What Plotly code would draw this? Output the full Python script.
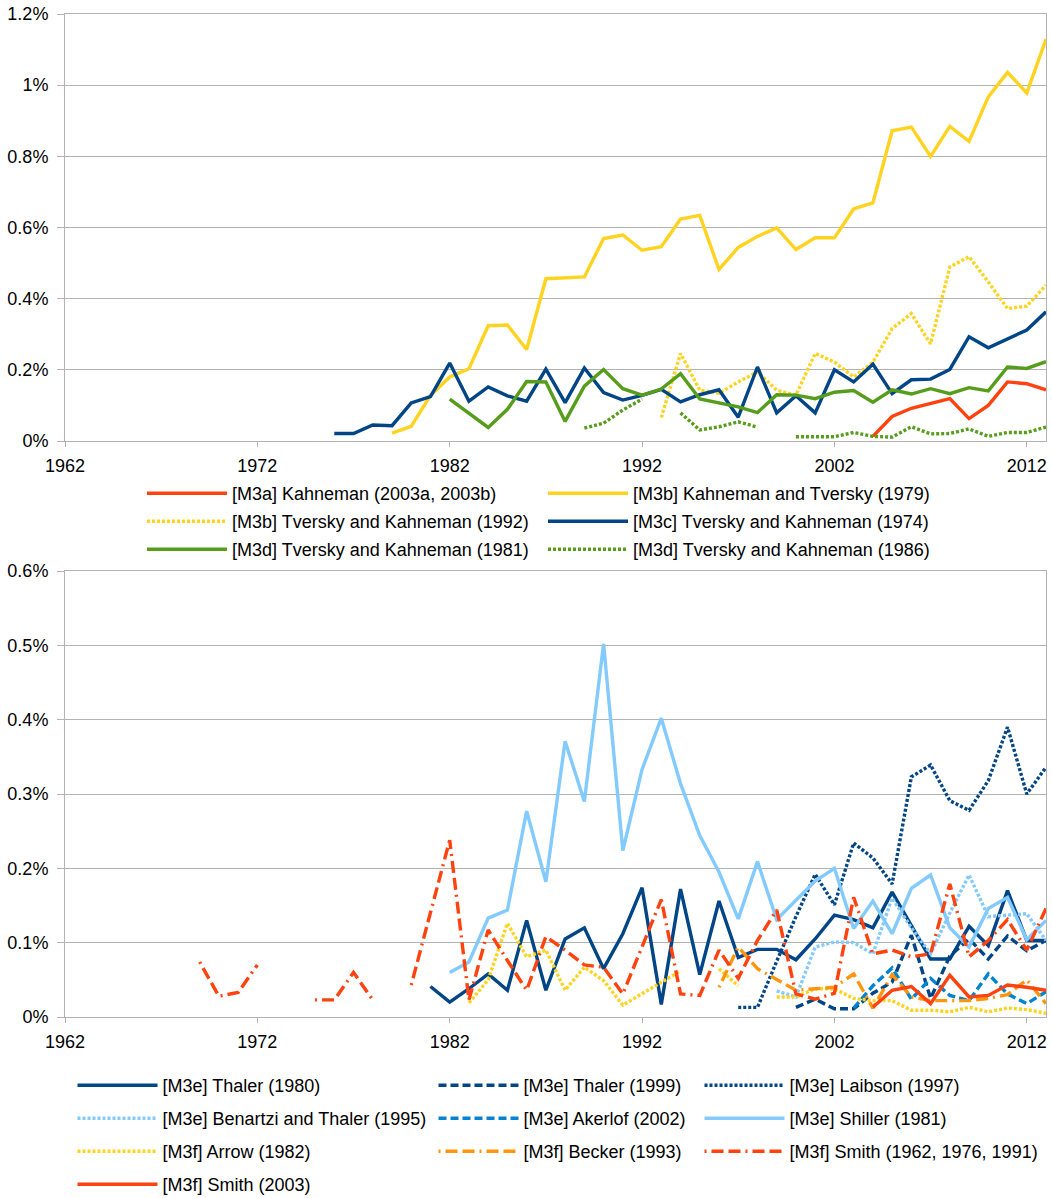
import plotly.graph_objects as go

# ---------------- data (values in percent) ----------------
YEARS = list(range(1962, 2014))
X_TICKS = [1962, 1972, 1982, 1992, 2002, 2012]
TOP_Y_TICKS = [0, 0.2, 0.4, 0.6, 0.8, 1.0, 1.2]
BOTTOM_Y_TICKS = [0, 0.1, 0.2, 0.3, 0.4, 0.5, 0.6]

# top chart
K2003_START = 2004
K2003 = [0.013, 0.069, 0.092, 0.106, 0.119, 0.063, 0.100, 0.166, 0.161, 0.144]

KT1979_START = 1979
KT1979 = [0.022, 0.041, 0.128, 0.180, 0.203, 0.324, 0.326, 0.257, 0.456, 0.459,
          0.461, 0.569, 0.579, 0.536, 0.546, 0.624, 0.634, 0.482, 0.544, 0.575,
          0.599, 0.538, 0.571, 0.571, 0.652, 0.669, 0.872, 0.882, 0.800, 0.884,
          0.842, 0.967, 1.036, 0.978, 1.129]

TK1992_START = 1993
TK1992 = [0.066, 0.246, 0.143, 0.134, 0.166, 0.194, 0.143, 0.129, 0.246, 0.222,
          0.180, 0.221, 0.316, 0.358, 0.273, 0.489, 0.518, 0.447, 0.372, 0.379,
          0.438]

TK1974_START = 1976
TK1974 = [0.021, 0.021, 0.045, 0.043, 0.107, 0.125, 0.219, 0.112, 0.152, 0.127,
          0.112, 0.202, 0.108, 0.205, 0.136, 0.115, 0.128, 0.145, 0.110, 0.130,
          0.144, 0.067, 0.208, 0.079, 0.127, 0.079, 0.200, 0.166, 0.216, 0.133,
          0.172, 0.174, 0.201, 0.293, 0.262, 0.288, 0.312, 0.363]

TK1981_START = 1982
TK1981 = [0.118, 0.077, 0.038, 0.089, 0.167, 0.166, 0.055, 0.154, 0.201, 0.147,
          0.129, 0.146, 0.189, 0.118, 0.107, 0.096, 0.080, 0.130, 0.129, 0.119,
          0.137, 0.142, 0.109, 0.144, 0.132, 0.147, 0.133, 0.150, 0.141, 0.208,
          0.204, 0.223]

TK1986_START = 1989
TK1986 = [0.036, 0.050, 0.087, 0.118, None, 0.079, 0.031, 0.040, 0.054, 0.039,
          None, 0.012, 0.012, 0.012, 0.024, 0.013, 0.011, 0.040, 0.020, 0.021,
          0.034, 0.013, 0.024, 0.024, 0.039]

# bottom chart
THALER1980_START = 1981
THALER1980 = [0.041, 0.020, 0.038, 0.058, 0.036, 0.130, 0.036, 0.105, 0.120, 0.065,
              0.112, 0.174, 0.017, 0.172, 0.057, 0.156, 0.080, 0.091, 0.091, 0.077,
              0.105, 0.137, 0.131, 0.120, 0.168, 0.122, 0.078, 0.078, 0.122, 0.096,
              0.170, 0.103, 0.103]

THALER1999_START = 2000
THALER1999 = [0.013, 0.024, 0.011, 0.011, 0.032, 0.047, 0.110, 0.025, 0.082, 0.105,
              0.078, 0.109, 0.089, 0.103]

LAIBSON1997_START = 1997
LAIBSON1997 = [0.013, 0.013, 0.075, 0.135, 0.192, 0.151, 0.234, 0.214, 0.179, 0.323,
               0.339, 0.291, 0.278, 0.318, 0.390, 0.300, 0.336]

BENARTZI1995_START = 1999
BENARTZI1995 = [0.035, 0.027, 0.094, 0.101, 0.100, 0.085, 0.160, 0.120, 0.085, 0.140,
                0.191, 0.135, 0.137, 0.139, 0.103]

AKERLOF2002_START = 2003
AKERLOF2002 = [0.012, 0.042, 0.066, 0.024, 0.052, 0.029, 0.022, 0.058, 0.031, 0.018,
               0.034]

SHILLER1981_START = 1982
SHILLER1981 = [0.060, 0.074, 0.133, 0.144, 0.277, 0.182, 0.371, 0.290, 0.502, 0.224,
               0.333, 0.402, 0.314, 0.244, 0.195, 0.132, 0.209, 0.131, 0.157, 0.183,
               0.200, 0.119, 0.156, 0.112, 0.173, 0.191, 0.120, 0.094, 0.146, 0.161,
               0.104, 0.130]

ARROW1982_START = 1983
ARROW1982 = [0.019, 0.050, 0.126, 0.081, 0.090, 0.036, 0.067, 0.049, 0.016, 0.031,
             0.046, 0.062, None, 0.065, 0.042, None, 0.027, 0.027, 0.038, 0.038,
             0.025, 0.022, 0.022, 0.009, 0.009, 0.007, 0.013, 0.007, 0.012, 0.010,
             0.005]

BECKER1993_START = 1996
BECKER1993 = [0.040, 0.094, 0.065, 0.051, 0.036, 0.038, 0.040, 0.058, 0.012, 0.057,
              0.027, 0.022, 0.022, 0.022, 0.025, 0.030, 0.050, 0.018]

SMITH1962_START = 1969
SMITH1962 = [0.074, 0.028, 0.033, 0.070, None, None, 0.023, 0.023, 0.060, 0.023,
             None, 0.043, 0.141, 0.238, 0.023, 0.117, 0.076, 0.036, 0.108, 0.090,
             0.070, 0.067, 0.031, 0.096, 0.158, 0.031, 0.029, 0.090, 0.052, 0.103,
             0.144, 0.031, 0.024, 0.032, 0.161, 0.085, 0.090, 0.081, 0.085, 0.179,
             0.081, 0.103, 0.131, 0.090, 0.146]

SMITH2003_START = 2004
SMITH2003 = [0.013, 0.036, 0.041, 0.018, 0.056, 0.027, 0.029, 0.043, 0.040, 0.036]

# ---------------- styling ----------------
RED = "#ff420e"
YELLOW = "#ffd320"
DARK = "#004586"
GREEN = "#579d1c"
LIGHT = "#83caff"
MID = "#0084d1"
ORANGE = "#ff950e"
GRID = "#b3b3b3"
FONT = "Liberation Sans, Arial, sans-serif"
LW = 3.4

DOT = "3px,2px"
DASH = "8px,4px"
DASHDOT = "2px,5px,12px,5px,12px,5px"


def years_for(start, vals):
    i = start - YEARS[0]
    return YEARS[i:i + len(vals)]


fig = go.Figure()


def add(name, start, vals, color, dash, legend, axis):
    fig.add_trace(go.Scatter(
        x=years_for(start, vals), y=vals, mode="lines", name=name,
        line=dict(color=color, width=LW, dash=dash),
        connectgaps=False, legend=legend, legendgroup=name,
        xaxis="x" if axis == 1 else "x2", yaxis="y" if axis == 1 else "y2",
    ))


# top chart
add("[M3a] Kahneman (2003a, 2003b)", K2003_START, K2003, RED, "solid", "legend", 1)
add("[M3b] Kahneman and Tversky (1979)", KT1979_START, KT1979, YELLOW, "solid", "legend2", 1)
add("[M3b] Tversky and Kahneman (1992)", TK1992_START, TK1992, YELLOW, DOT, "legend", 1)
add("[M3c] Tversky and Kahneman (1974)", TK1974_START, TK1974, DARK, "solid", "legend2", 1)
add("[M3d] Tversky and Kahneman (1981)", TK1981_START, TK1981, GREEN, "solid", "legend", 1)
add("[M3d] Tversky and Kahneman (1986)", TK1986_START, TK1986, GREEN, DOT, "legend2", 1)

# bottom chart
add("[M3e] Thaler (1980)", THALER1980_START, THALER1980, DARK, "solid", "legend3", 2)
add("[M3e] Thaler (1999)", THALER1999_START, THALER1999, DARK, DASH, "legend4", 2)
add("[M3e] Laibson (1997)", LAIBSON1997_START, LAIBSON1997, DARK, DOT, "legend5", 2)
add("[M3e] Benartzi and Thaler (1995)", BENARTZI1995_START, BENARTZI1995, LIGHT, DOT, "legend3", 2)
add("[M3e] Akerlof (2002)", AKERLOF2002_START, AKERLOF2002, MID, DASH, "legend4", 2)
add("[M3e] Shiller (1981)", SHILLER1981_START, SHILLER1981, LIGHT, "solid", "legend5", 2)
add("[M3f] Arrow (1982)", ARROW1982_START, ARROW1982, YELLOW, DOT, "legend3", 2)
add("[M3f] Becker (1993)", BECKER1993_START, BECKER1993, ORANGE, DASHDOT, "legend4", 2)
add("[M3f] Smith (1962, 1976, 1991)", SMITH1962_START, SMITH1962, RED, DASHDOT, "legend5", 2)
add("[M3f] Smith (2003)", SMITH2003_START, SMITH2003, RED, "solid", "legend3", 2)

W, H = 1052, 1198
XDOM = [65 / W, 1046 / W]


def pct(v):
    return f"{v:g}%"


def xaxis_style(anchor, standoff):
    return dict(domain=XDOM, range=[1962, 2013], tickmode="array", tickvals=X_TICKS,
                ticks="outside", ticklen=5, tickcolor=GRID, showline=True,
                linecolor=GRID, linewidth=1, mirror=True, showgrid=False,
                zeroline=False, anchor=anchor, ticklabelstandoff=standoff,
                automargin=False, ticklabeloverflow="allow",
                tickfont=dict(family=FONT, size=18, color="#000"))


def yaxis_style(dom, rng, ticks, anchor):
    return dict(domain=dom, range=rng, tickmode="array", tickvals=ticks,
                ticktext=[pct(v) for v in ticks], ticks="outside", ticklen=7,
                tickcolor=GRID, showline=True, linecolor=GRID, linewidth=1,
                mirror=True, showgrid=True, gridcolor=GRID, gridwidth=1,
                zeroline=False, anchor=anchor, ticklabelstandoff=5,
                automargin=False, ticklabeloverflow="allow",
                tickfont=dict(family=FONT, size=18, color="#000"))


def legend_style(x, ytop, gap):
    return dict(x=x / W, y=1 - ytop / H, xanchor="left", yanchor="top",
                orientation="v", itemwidth=80, tracegroupgap=gap,
                bgcolor="rgba(0,0,0,0)", borderwidth=0,
                font=dict(family=FONT, size=18, color="#000"))


fig.update_layout(
    width=W, height=H, margin=dict(l=0, r=0, t=0, b=0, autoexpand=False),
    paper_bgcolor="white", plot_bgcolor="white", showlegend=True,
    font=dict(family=FONT, size=18, color="#000"),
    xaxis=xaxis_style("y", 3),
    yaxis=yaxis_style([1 - 441 / H, 1 - 14 / H], [0, 1.2], TOP_Y_TICKS, "x"),
    xaxis2=xaxis_style("y2", 3),
    yaxis2=yaxis_style([1 - 1017 / H, 1 - 571 / H], [0, 0.6], BOTTOM_Y_TICKS, "x2"),
    legend=legend_style(142, 475, 1.6),
    legend2=legend_style(543, 475, 1.6),
    legend3=legend_style(72.5, 1067, 6.6),
    legend4=legend_style(433.5, 1067, 6.6),
    legend5=legend_style(699.5, 1067, 6.6),
)

# remove the browser's default 8px body margin so the figure fills the window
fig.write_html(
    "out.html",
    config={"displayModeBar": False},
    post_script="document.body.style.margin='0';document.body.style.overflow='hidden';",
)
